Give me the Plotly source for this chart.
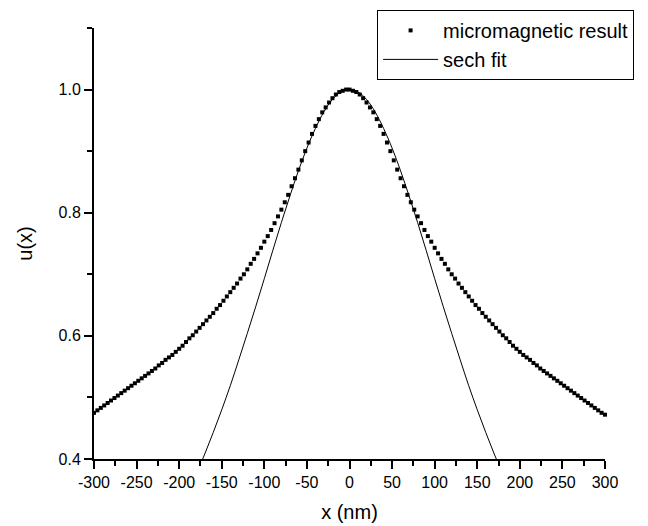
import plotly.graph_objects as go

# ---- data ----
mm_x = [-300, -296, -292, -288, -284, -280, -276, -272, -268, -264, -260, -256, -252, -248, -244,
        -240, -236, -232, -228, -224, -220, -216, -212, -208, -204, -200, -196, -192, -188, -184,
        -180, -176, -172, -168, -164, -160, -156, -152, -148, -144, -140, -136, -132, -128, -124,
        -120, -116, -112, -108, -104, -100, -96, -92, -88, -84, -80, -76, -72, -68, -64,
        -60, -56, -52, -48, -44, -40, -36, -32, -28, -24, -20, -16, -12, -8, -4,
        0, 4, 8, 12, 16, 20, 24, 28, 32, 36, 40, 44, 48, 52, 56,
        60, 64, 68, 72, 76, 80, 84, 88, 92, 96, 100, 104, 108, 112, 116,
        120, 124, 128, 132, 136, 140, 144, 148, 152, 156, 160, 164, 168, 172, 176,
        180, 184, 188, 192, 196, 200, 204, 208, 212, 216, 220, 224, 228, 232, 236,
        240, 244, 248, 252, 256, 260, 264, 268, 272, 276, 280, 284, 288, 292, 296, 300]
mm_u = [0.475, 0.479, 0.483, 0.487, 0.491, 0.495, 0.499, 0.503, 0.507, 0.511, 0.515, 0.519, 0.523, 0.527, 0.531,
        0.535, 0.539, 0.543, 0.547, 0.552, 0.556, 0.561, 0.565, 0.569, 0.574, 0.579, 0.584, 0.590, 0.596, 0.601,
        0.607, 0.613, 0.619, 0.625, 0.631, 0.637, 0.644, 0.650, 0.657, 0.664, 0.671, 0.678, 0.685, 0.693, 0.700,
        0.708, 0.717, 0.725, 0.734, 0.743, 0.753, 0.762, 0.772, 0.783, 0.794, 0.805, 0.817, 0.829, 0.843, 0.856,
        0.870, 0.885, 0.900, 0.914, 0.928, 0.941, 0.952, 0.963, 0.971, 0.979, 0.986, 0.992, 0.996, 0.998, 1.000,
        1.000, 0.998, 0.996, 0.992, 0.986, 0.979, 0.971, 0.963, 0.952, 0.941, 0.928, 0.914, 0.900, 0.885, 0.870,
        0.856, 0.843, 0.829, 0.817, 0.805, 0.794, 0.783, 0.772, 0.762, 0.753, 0.743, 0.734, 0.725, 0.717, 0.708,
        0.700, 0.693, 0.685, 0.678, 0.671, 0.664, 0.657, 0.650, 0.644, 0.637, 0.631, 0.625, 0.619, 0.613, 0.607,
        0.601, 0.596, 0.590, 0.584, 0.579, 0.574, 0.569, 0.565, 0.561, 0.556, 0.552, 0.547, 0.543, 0.539, 0.535,
        0.531, 0.527, 0.523, 0.519, 0.515, 0.511, 0.507, 0.503, 0.499, 0.495, 0.491, 0.487, 0.483, 0.479, 0.475, 0.472]

fit_x = [-180, -170, -160, -150, -140, -130, -120, -110, -100, -90, -80, -70, -60, -50, -40, -30, -20, -10,
         0, 10, 20, 30, 40, 50, 60, 70, 80, 90, 100, 110, 120, 130, 140, 150, 160, 170, 180]
fit_u = [0.375, 0.408, 0.443, 0.480, 0.519, 0.561, 0.604, 0.648, 0.693, 0.739, 0.784, 0.827, 0.868, 0.905,
         0.937, 0.964, 0.984, 0.996, 1.000, 0.996, 0.984, 0.964, 0.937, 0.905, 0.868, 0.827, 0.784, 0.739,
         0.693, 0.648, 0.604, 0.561, 0.519, 0.480, 0.443, 0.408, 0.375]

x_tickvals = [-300, -250, -200, -150, -100, -50, 0, 50, 100, 150, 200, 250, 300]
x_ticktext = ["-300", "-250", "-200", "-150", "-100", "-50", "0", "50", "100", "150", "200", "250", "300"]
x_minor = [-275, -225, -175, -125, -75, -25, 25, 75, 125, 175, 225, 275]
y_tickvals = [0.4, 0.6, 0.8, 1.0]
y_ticktext = ["0.4", "0.6", "0.8", "1.0"]
y_minor = [0.5, 0.7, 0.9, 1.1]

FONT = "Arial, Liberation Sans, sans-serif"

fig = go.Figure()
fig.add_trace(go.Scatter(x=mm_x, y=mm_u, mode="markers", name="micromagnetic result",
                         marker=dict(symbol="square", size=4, color="black"),
                         cliponaxis=False))
fig.add_trace(go.Scatter(x=fit_x, y=fit_u, mode="lines", name="sech fit",
                         line=dict(color="black", width=1, shape="spline")))

axis_common = dict(showgrid=False, zeroline=False, showline=True, linecolor="black", linewidth=2,
                   ticks="outside", ticklen=8, tickwidth=2, tickcolor="black",
                   tickfont=dict(family=FONT, size=16, color="black"), mirror=False)

fig.update_xaxes(range=[-300, 300], tickmode="array", tickvals=x_tickvals, ticktext=x_ticktext,
                 minor=dict(tickmode="array", tickvals=x_minor, ticks="outside", ticklen=5,
                            tickwidth=2, tickcolor="black", showgrid=False),
                 title=dict(text="x (nm)", font=dict(family=FONT, size=20, color="black"), standoff=15),
                 **axis_common)
fig.update_yaxes(range=[0.4, 1.1], tickmode="array", tickvals=y_tickvals, ticktext=y_ticktext,
                 minor=dict(tickmode="array", tickvals=y_minor, ticks="outside", ticklen=5,
                            tickwidth=2, tickcolor="black", showgrid=False),
                 title=dict(text="u(x)", font=dict(family=FONT, size=20, color="black"), standoff=21),
                 **axis_common)

fig.update_layout(
    width=648, height=526,
    margin=dict(l=86, r=51, t=20, b=75, autoexpand=False),
    paper_bgcolor="white", plot_bgcolor="white",
    font=dict(family=FONT, color="black"),
    showlegend=True,
    legend=dict(x=0.554, y=1.042, xanchor="left", yanchor="top",
                bordercolor="black", borderwidth=1, bgcolor="white",
                font=dict(family=FONT, size=20, color="black"),
                itemwidth=55, tracegroupgap=0),
)

fig.write_html("out.html")
